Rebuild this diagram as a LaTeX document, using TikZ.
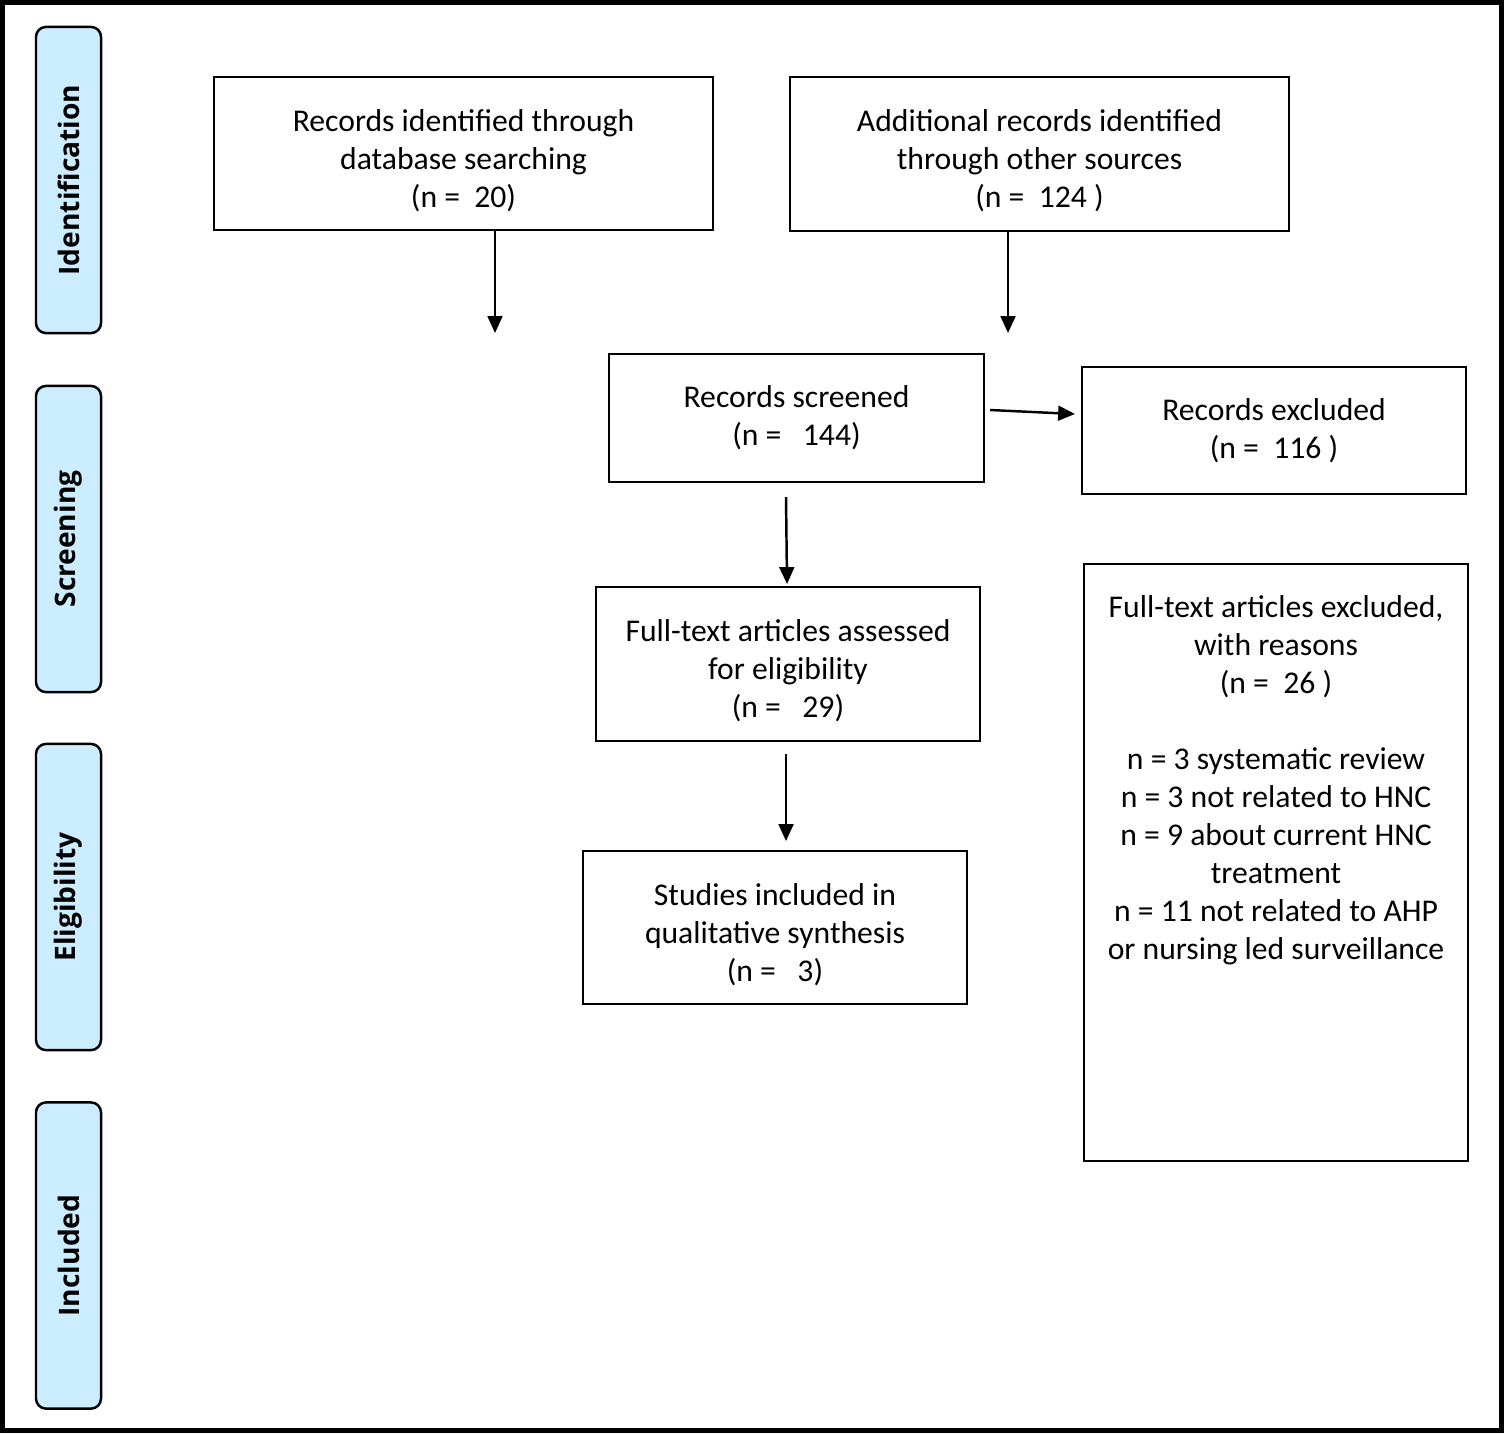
\documentclass[tikz,border=0pt]{standalone}
\usepackage{fontspec}
\setmainfont{Carlito}
\newfontfamily\phasefont{Open Sans}
\usetikzlibrary{arrows.meta}
\definecolor{phaseblue}{RGB}{204,236,255}
\newcommand{\topgap}{\rule{0pt}{10.2pt}}
\tikzset{
	box/.style={draw,line width=0.6pt,align=center,inner sep=0pt,font=\fontsize{9}{10.8}\selectfont},
	boxtext/.style={align=center,inner sep=0pt,font=\fontsize{9}{10.8}\selectfont},
	phase/.style={draw,line width=0.7pt,fill=phaseblue,rounded corners=0.1cm,rotate=90,
		minimum width=3.06cm,minimum height=0.65cm,inner sep=0pt,font=\phasefont\bfseries\fontsize{8}{9}\selectfont},
	flow/.style={->,line width=0.7pt}
}

\begin{document}
\begin{tikzpicture}[x=0.01cm,y=-0.01cm,>={Triangle[length=4.8pt,width=4.2pt]}]
	\useasboundingbox (0,0) rectangle (1504,1433);
	\draw [line width=0.05cm] (2.5,2.5) rectangle (1501.5,1430.5);
	\node[phase] (ident) at (68.5,180) {Identification};
	\node[phase] (screen) at (68.5,539) {Screening};
	\node[phase] (elig) at (68.5,897) {Eligibility};
	\node[phase] (incl) at (68.5,1255.5) {Included};
	\node[box,minimum width=4.99cm,minimum height=1.53cm] (dbrec) at (463.5,153.5) {\topgap Records identified through\\database searching\\(n =\ \ 20)};
	\node[box,minimum width=4.99cm,minimum height=1.54cm] (otherrec) at (1039.5,154) {\topgap Additional records identified\\through other sources\\(n =\ \ 124 )};
	\node[box,minimum width=3.75cm,minimum height=1.28cm] (screened) at (796.5,418) {Records screened\\(n =\ \ \ 144)};
	\node[box,minimum width=3.84cm,minimum height=1.27cm] (excluded) at (1274,430.5) {Records excluded\\(n =\ \ 116 )};
	\node[box,minimum width=3.84cm,minimum height=1.54cm] (fulltext) at (788,664) {\topgap Full-text articles assessed\\for eligibility\\(n =\ \ \ 29)};
	\node[box,minimum width=3.84cm,minimum height=1.53cm] (studies) at (775,927.5) {\topgap Studies included in\\qualitative synthesis\\(n =\ \ \ 3)};
	\node[box,minimum width=3.84cm,minimum height=5.97cm] (reasons) at (1276,862.5) {};
	\node[boxtext,anchor=north] (reasontext) at (1276,595) {Full-text articles excluded,\\with reasons\\(n =\ \ 26 )\\[10.8pt]n = 3 systematic review\\n = 3 not related to HNC\\n = 9 about current HNC\\treatment\\n = 11 not related to AHP\\or nursing led surveillance};
	\coordinate (dbend) at (495,333);
	\coordinate (otherend) at (1008,333);
	\coordinate (scrout) at (990,410);
	\coordinate (exclin) at (1075,414);
	\coordinate (scrdown) at (786,497);
	\coordinate (fullin) at (787,584);
	\coordinate (fulldown) at (786,754);
	\coordinate (studin) at (786,841);
	\draw[flow] (dbrec.south -| dbend) -- (dbend);
	\draw[flow] (otherrec.south -| otherend) -- (otherend);
	\draw[flow] (scrout) -- (exclin);
	\draw[flow] (scrdown) -- (fullin);
	\draw[flow] (fulldown) -- (studin);
\end{tikzpicture}
\end{document}
